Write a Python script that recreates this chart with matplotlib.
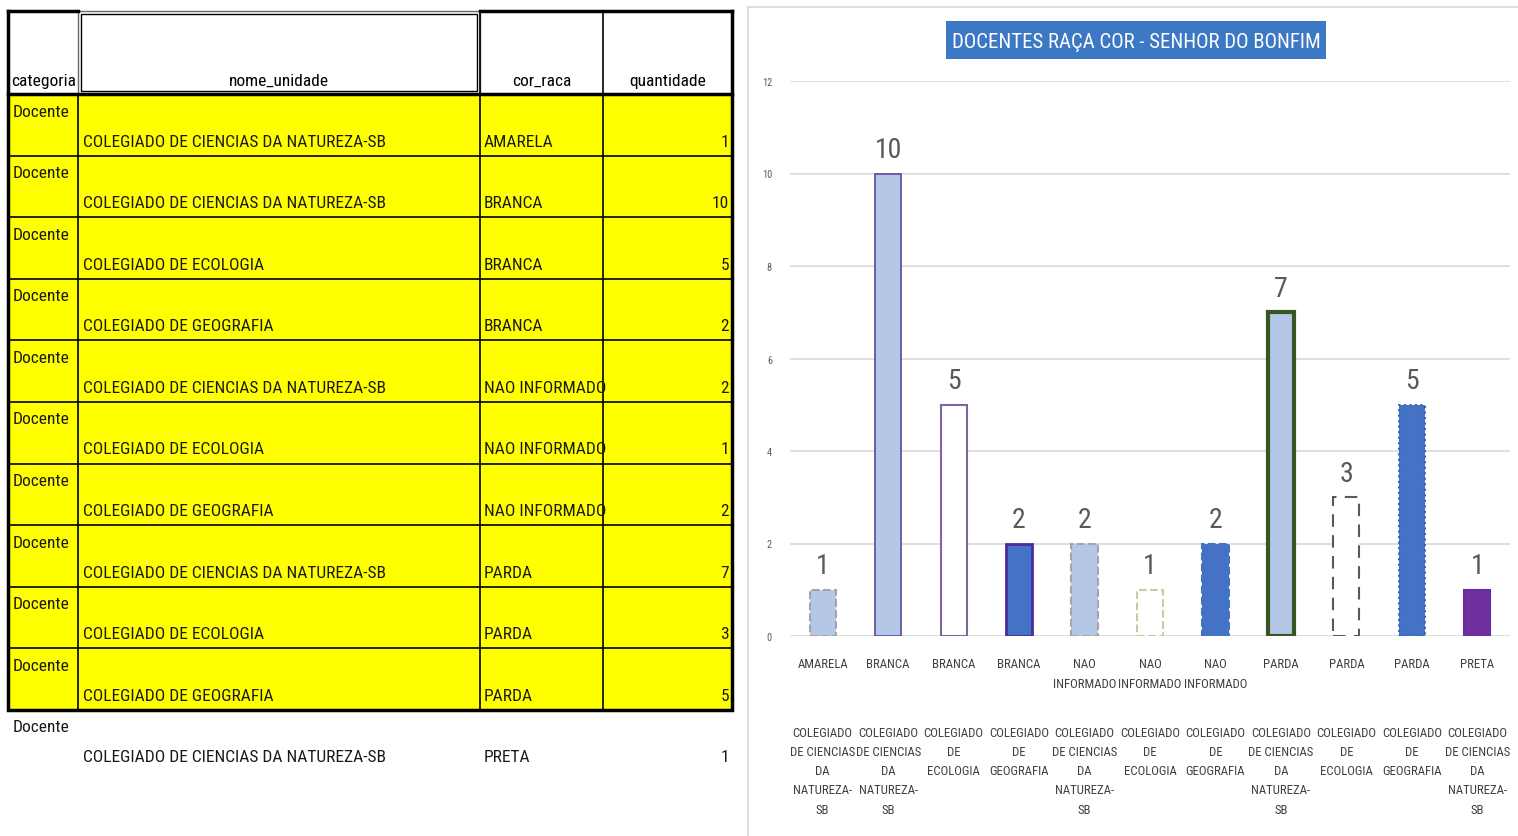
import matplotlib.pyplot as plt
from matplotlib.patches import Rectangle
from matplotlib import transforms, font_manager

# dados da planilha
colunas = ['categoria', 'nome_unidade', 'cor_raca', 'quantidade']
categoria = ['Docente'] * 11
nome_unidade = [
    'COLEGIADO DE CIENCIAS DA NATUREZA-SB',
    'COLEGIADO DE CIENCIAS DA NATUREZA-SB',
    'COLEGIADO DE ECOLOGIA',
    'COLEGIADO DE GEOGRAFIA',
    'COLEGIADO DE CIENCIAS DA NATUREZA-SB',
    'COLEGIADO DE ECOLOGIA',
    'COLEGIADO DE GEOGRAFIA',
    'COLEGIADO DE CIENCIAS DA NATUREZA-SB',
    'COLEGIADO DE ECOLOGIA',
    'COLEGIADO DE GEOGRAFIA',
    'COLEGIADO DE CIENCIAS DA NATUREZA-SB',
]
cor_raca = ['AMARELA', 'BRANCA', 'BRANCA', 'BRANCA', 'NAO INFORMADO', 'NAO INFORMADO',
            'NAO INFORMADO', 'PARDA', 'PARDA', 'PARDA', 'PRETA']
quantidade = [1, 10, 5, 2, 2, 1, 2, 7, 3, 5, 1]
titulo = 'DOCENTES RAÇA COR - SENHOR DO BONFIM'

# rótulos quebrados como no gráfico do Excel
rotulo_unidade = {
    'COLEGIADO DE CIENCIAS DA NATUREZA-SB': 'COLEGIADO\nDE CIENCIAS\nDA\nNATUREZA-\nSB',
    'COLEGIADO DE ECOLOGIA': 'COLEGIADO\nDE\nECOLOGIA',
    'COLEGIADO DE GEOGRAFIA': 'COLEGIADO\nDE\nGEOGRAFIA',
}
rotulo_cor = {'NAO INFORMADO': 'NAO\nINFORMADO'}

# estilos de cada barra (formatação manual por barra no original)
estilos = [
    dict(fc='#B4C7E7', ec='#A5A5A5', ls='--', lw=1.5),
    dict(fc='#B4C7E7', ec='#5B4A9E', ls='-', lw=1.2),
    dict(fc='white', ec='#8064A2', ls='-', lw=1.5),
    dict(fc='#4472C4', ec='#4B2C9C', ls='-', lw=2),
    dict(fc='#B4C7E7', ec='#A5A5A5', ls='--', lw=1.5),
    dict(fc='white', ec='#C9C9A8', ls='--', lw=1.5),
    dict(fc='#4472C4', ec='#4472C4', ls='--', lw=1.5),
    dict(fc='#B4C7E7', ec='#375623', ls='-', lw=3),
    dict(fc='white', ec='#595959', ls=(0, (6, 4)), lw=1.5),
    dict(fc='#4472C4', ec='#3B64B0', ls=':', lw=1.5),
    dict(fc='#7030A0', ec='#6A2C9A', ls='-', lw=1.5),
]

# escolhe a fonte mais estreita disponível
instaladas = {f.name for f in font_manager.fontManager.ttflist}
fonte = 'DejaVu Sans'
for nome in ['Liberation Sans Narrow', 'Roboto Condensed', 'Open Sans Condensed', 'Liberation Sans']:
    if nome in instaladas:
        fonte = nome
        break
plt.rcParams['font.family'] = [fonte, 'DejaVu Sans']

W, H = 1518, 837
fig = plt.figure(figsize=(W / 100, H / 100), dpi=100)
fig.patch.set_facecolor('white')
renderer = fig.canvas.get_renderer()


def tamanho_para_largura(texto, largura_px):
    t = fig.text(0, 0, texto, fontsize=10)
    w = t.get_window_extent(renderer).width
    t.remove()
    return 10 * largura_px / w


def espacamento(tamanho, passo_px):
    t1 = fig.text(0, 0, 'A', fontsize=tamanho, linespacing=1.0)
    t2 = fig.text(0, 0, 'A\nA', fontsize=tamanho, linespacing=1.0)
    d = t2.get_window_extent(renderer).height - t1.get_window_extent(renderer).height
    t1.remove()
    t2.remove()
    return passo_px / d


fs_tab = tamanho_para_largura('COLEGIADO DE CIENCIAS DA NATUREZA-SB', 302)
fs_tick = tamanho_para_largura('COLEGIADO', 60)
fs_tit = tamanho_para_largura(titulo, 369)
fs_val = tamanho_para_largura('10', 27)
fs_y = tamanho_para_largura('12', 10)

# eixo de fundo em pixels para a planilha
bg = fig.add_axes([0, 0, 1, 1])
bg.set_xlim(0, W)
bg.set_ylim(H, 0)
bg.axis('off')

col_x = [8, 78, 480, 603, 732]
topo_cab = 12
base_cab = 95
alt_linha = 61.6
n_amarelo = 10

# cabeçalho
for j, nome in enumerate(colunas):
    x0, x1 = col_x[j], col_x[j + 1]
    if j == 0:
        bg.text(x0 + 3, 81, nome, ha='left', va='center', fontsize=fs_tab, color='black')
    else:
        bg.text((x0 + x1) / 2, 81, nome, ha='center', va='center', fontsize=fs_tab, color='black')
bg.plot([col_x[0], col_x[1]], [topo_cab, topo_cab], color='black', lw=2.5)
bg.plot([col_x[2], col_x[4]], [topo_cab, topo_cab], color='black', lw=2.5)
bg.add_patch(Rectangle((col_x[1], topo_cab), col_x[2] - col_x[1], base_cab - topo_cab,
                       fill=False, ec='#666666', lw=1))
bg.add_patch(Rectangle((col_x[1] + 3, topo_cab + 3), col_x[2] - col_x[1] - 6, base_cab - topo_cab - 6,
                       fill=False, ec='black', lw=1))
for xv in [col_x[0], col_x[2], col_x[3], col_x[4]]:
    bg.plot([xv, xv], [topo_cab, base_cab], color='black', lw=1.2 if xv in (col_x[2], col_x[3]) else 2.5)

# linhas de dados
for i in range(len(quantidade)):
    y0 = base_cab + i * alt_linha
    if i < n_amarelo:
        bg.add_patch(Rectangle((col_x[0], y0), col_x[4] - col_x[0], alt_linha, fc='#FFFF00', ec='none', zorder=0))
        bg.plot([col_x[0], col_x[4]], [y0, y0], color='black', lw=1.2)
    bg.text(col_x[0] + 5, y0 + 17, categoria[i], ha='left', va='center', fontsize=fs_tab, color='#1a1a1a')
    yt = y0 + 47
    bg.text(col_x[1] + 5, yt, nome_unidade[i], ha='left', va='center', fontsize=fs_tab, color='#1a1a1a')
    t = bg.text(col_x[2] + 4, yt, cor_raca[i], ha='left', va='center', fontsize=fs_tab, color='#1a1a1a')
    t.set_clip_path(Rectangle((col_x[2], y0), col_x[3] - col_x[2], alt_linha, transform=bg.transData))
    bg.text(col_x[4] - 3, yt, str(quantidade[i]), ha='right', va='center', fontsize=fs_tab, color='#1a1a1a')

y_fim = base_cab + n_amarelo * alt_linha
for xv in col_x[1:4]:
    bg.plot([xv, xv], [base_cab, y_fim], color='black', lw=1.2)
bg.add_patch(Rectangle((col_x[0], base_cab), col_x[4] - col_x[0], y_fim - base_cab,
                       fill=False, ec='black', lw=2.5))

# moldura da área do gráfico
bg.plot([748, 748], [8, H], color='#D9D9D9', lw=1.2)
bg.plot([748, W], [8, 8], color='#D9D9D9', lw=1.2)

# título em caixa azul
bg.add_patch(Rectangle((946, 22), 380, 38, fc='#3C78C3', ec='none'))
bg.text(1136, 42, titulo, ha='center', va='center', fontsize=fs_tit, color='white')

# gráfico de barras
ax = fig.add_axes([790 / W, (H - 637) / H, 720 / W, 555 / H])
ax.set_facecolor('none')
x = list(range(len(quantidade)))
barras = ax.bar(x, quantidade, width=0.4, zorder=3)
for b, st in zip(barras, estilos):
    b.set_facecolor(st['fc'])
    b.set_edgecolor(st['ec'])
    b.set_linestyle(st['ls'])
    b.set_linewidth(st['lw'])

for i, v in enumerate(quantidade):
    ax.annotate(str(v), (i, v), xytext=(0, 12), textcoords='offset points',
                ha='center', va='baseline', fontsize=fs_val, color='#595959')

ax.set_xlim(-0.5, len(quantidade) - 0.5)
ax.set_ylim(0, 12)
ax.set_yticks(range(0, 13, 2))
ax.yaxis.grid(True, color='#D9D9D9', lw=1.2, zorder=0)
ax.set_axisbelow(True)
for s in ax.spines.values():
    s.set_visible(False)
ax.tick_params(axis='y', length=0, pad=13, labelsize=fs_y, labelcolor='#595959')
ax.set_xticks(x)
ax.set_xticklabels([rotulo_cor.get(c, c) for c in cor_raca], fontsize=fs_tick, color='#404040',
                   linespacing=espacamento(fs_tick, 22))
ax.tick_params(axis='x', length=0, pad=15)

trans = transforms.blended_transform_factory(ax.transData, bg.transData)
ls_unid = espacamento(fs_tick, 21)
for i, nome in enumerate(nome_unidade):
    ax.text(i, 727, rotulo_unidade.get(nome, nome), transform=trans, ha='center', va='top',
            fontsize=fs_tick, color='#404040', linespacing=ls_unid)

fig.savefig('out.png', dpi=100)
